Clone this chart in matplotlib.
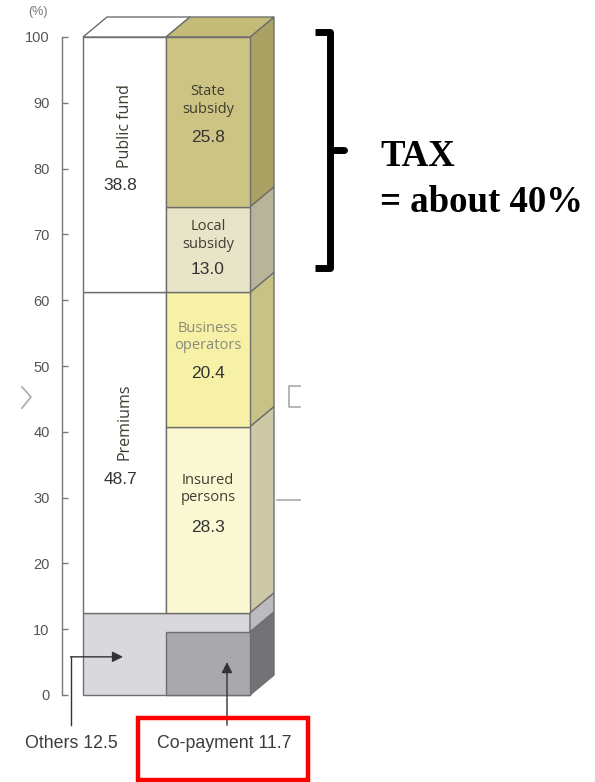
import matplotlib.pyplot as plt
from matplotlib.patches import Polygon, Rectangle
from matplotlib.lines import Line2D

# ---------------- data ----------------
left_labels = ["Others", "Premiums", "Public fund"]
left_values = [12.5, 48.7, 38.8]

right_labels = ["Co-payment", "Others", "Insured\npersons", "Business\noperators",
                "Local\nsubsidy", "State\nsubsidy"]
right_values = [9.6, 2.9, 28.3, 20.4, 13.0, 25.8]   # drawn heights

others_value = 12.5
copay_value = 11.7
yticks = [0, 10, 20, 30, 40, 50, 60, 70, 80, 90, 100]

# ---------------- style ----------------
left_front = ["#d9d9dd", "#ffffff", "#ffffff"]
right_front = ["#a9a9ad", "#dcdcdf", "#fbf8d4", "#f6f1a6", "#e7e4c8", "#cdc483"]
right_side = ["#727277", "#bcbcc0", "#cdc9a6", "#c9c285", "#b7b49a", "#aaa162"]
top_left_col = "#ffffff"
top_right_col = "#c4bb79"
edge = "#6e6e6e"

W, H = 595, 782
fig = plt.figure(figsize=(W / 100, H / 100), dpi=100)
fig.patch.set_facecolor("white")

ax = fig.add_axes([62 / W, 87 / H, 238 / W, 658 / H])
ax.set_xlim(0, 238)
ax.set_ylim(0, 100)
ax.patch.set_alpha(0)
for s in ["top", "right", "bottom"]:
    ax.spines[s].set_visible(False)
ax.spines["left"].set_color("#7a7a7a")
ax.spines["left"].set_linewidth(1.0)
ax.set_xticks([])
ax.set_yticks(yticks)
ax.tick_params(axis="y", direction="in", length=4.5, width=1.0, color="#7a7a7a",
               pad=9, labelsize=10.5, labelcolor="#555555")
for t in ax.get_yticklabels():
    t.set_fontfamily("Liberation Sans")

# column geometry (x units = pixels along the axes)
xl0, xl1, xr1 = 21, 104, 188
dx = 24
dy = 20 / 6.58

def poly(pts, fc, z=2, lw=1.0):
    ax.add_patch(Polygon(pts, closed=True, facecolor=fc, edgecolor=edge,
                         linewidth=lw, zorder=z, clip_on=False, joinstyle="miter"))

# "Others" band spans the whole width at the bottom
poly([(xl0, 0), (xr1, 0), (xr1, left_values[0]), (xl0, left_values[0])], left_front[0])

# left column upper blocks
bottom = left_values[0]
for v, fc in zip(left_values[1:], left_front[1:]):
    poly([(xl0, bottom), (xl1, bottom), (xl1, bottom + v), (xl0, bottom + v)], fc)
    bottom += v

# right column front + side faces
bottom = 0
for i, (v, fc, sc) in enumerate(zip(right_values, right_front, right_side)):
    if i != 1:
        poly([(xl1, bottom), (xr1, bottom), (xr1, bottom + v), (xl1, bottom + v)], fc, z=3)
    poly([(xr1, bottom), (xr1 + dx, bottom + dy), (xr1 + dx, bottom + v + dy),
          (xr1, bottom + v)], sc)
    bottom += v
top_total = bottom

# top face
poly([(xl0, top_total), (xl1, top_total), (xl1 + dx, top_total + dy),
      (xl0 + dx, top_total + dy)], top_left_col)
poly([(xl1, top_total), (xr1, top_total), (xr1 + dx, top_total + dy),
      (xl1 + dx, top_total + dy)], top_right_col)

# ---------------- labels inside bars ----------------
lab_font = dict(family="Open Sans", fontsize=10.5, color="#3d3d30", ha="center",
                va="center", linespacing=1.25, zorder=5)
rot_font = dict(family="Open Sans", fontsize=11.5, color="#3d3d30", ha="center",
                va="center", rotation=90, zorder=5)
num_font = dict(family="Liberation Sans", fontsize=12.5, color="#333333", ha="center",
                va="center", zorder=5)

ax.text(63, 86.5, left_labels[2], **rot_font)
ax.text(58, 77.5, f"{left_values[2]:.1f}", **num_font)
ax.text(63, 41.5, left_labels[1], **rot_font)
ax.text(58, 32.7, f"{left_values[1]:.1f}", **num_font)

ax.text(146, 90.4, right_labels[5], **lab_font)
ax.text(146, 84.8, f"{right_values[5]:.1f}", **num_font)
ax.text(146, 69.8, right_labels[4], **lab_font)
ax.text(146, 64.6, f"{right_values[4]:.1f}", **num_font)
bl = dict(lab_font)
bl["color"] = "#8a8a7a"
ax.text(146, 54.4, right_labels[3], **bl)
ax.text(146, 48.9, f"{right_values[3]:.1f}", **num_font)
ax.text(146, 31.3, right_labels[2], **lab_font)
ax.text(146, 25.4, f"{right_values[2]:.1f}", **num_font)

# ---------------- arrows + bottom labels ----------------
acol = "#333333"
ax.plot([9, 9], [-4.6, 5.8], color=acol, lw=1.0, clip_on=False, zorder=6)
ax.annotate("", xy=(61, 5.8), xytext=(8.5, 5.8), annotation_clip=False,
            arrowprops=dict(arrowstyle="-|>", mutation_scale=16, color=acol, lw=1.0,
                            shrinkA=0, shrinkB=0), zorder=6)
ax.annotate("", xy=(165, 5.0), xytext=(165, -4.6), annotation_clip=False,
            arrowprops=dict(arrowstyle="-|>", mutation_scale=16, color=acol, lw=1.0,
                            shrinkA=0, shrinkB=0), zorder=6)

bot_font = dict(family="Liberation Sans", fontsize=12.8, color="#3c3c3c",
                ha="center", va="center", clip_on=False)
ax.text(9, -7.4, f"Others {others_value}", **bot_font)
ax.text(162, -7.4, f"Co-payment {copay_value}", **bot_font)

# ---------------- figure-level annotations (pixel helper) ----------------
def fx(x):
    return x / W

def fy(y):
    return 1 - y / H

fig.text(fx(38), fy(12), "(%)", fontsize=9, color="#777777", ha="center",
         va="center", family="Liberation Sans")

# red box
fig.add_artist(Rectangle((fx(138), fy(780)), fx(308) - fx(138), fy(718) - fy(780),
                         transform=fig.transFigure, fill=False, edgecolor="#ff0000",
                         linewidth=3.2))

# bracket
bk = dict(transform=fig.transFigure, color="black", linewidth=5,
          solid_capstyle="butt", solid_joinstyle="round")
fig.add_artist(Line2D([fx(315), fx(330), fx(330), fx(315)],
                      [fy(32), fy(32), fy(268), fy(268)], **bk))
fig.add_artist(Line2D([fx(330), fx(344)], [fy(150), fy(150)],
                      transform=fig.transFigure, color="black", linewidth=5,
                      solid_capstyle="round"))

fig.text(fx(380), fy(156), "TAX", family="Liberation Serif", fontweight="bold",
         fontsize=26.5, ha="left", va="center")
fig.text(fx(380), fy(202), "= about 40%", family="Liberation Serif", fontweight="bold",
         fontsize=26.5, ha="left", va="center")

# faint fragments of the surrounding page
frag = dict(transform=fig.transFigure, color="#b0b0b0", linewidth=1.3)
fig.add_artist(Line2D([fx(22), fx(31), fx(22)], [fy(387), fy(397), fy(408)], **frag))
fig.add_artist(Line2D([fx(300), fx(289), fx(289), fx(300)],
                      [fy(386), fy(386), fy(407), fy(407)], **frag))
fig.add_artist(Line2D([fx(277), fx(300)], [fy(500), fy(500)], **frag))

fig.savefig("out.png", dpi=100)
